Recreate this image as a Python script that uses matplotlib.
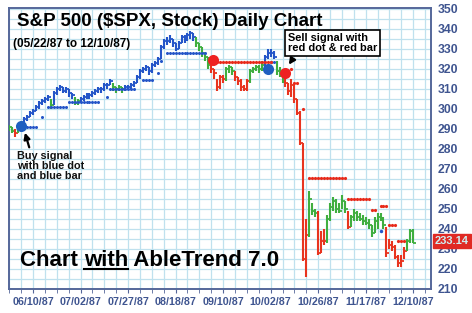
import matplotlib
matplotlib.use("Agg")
import matplotlib.pyplot as plt
from matplotlib.ticker import MultipleLocator, FixedLocator

# day index 12 = 06/10/87, 16 trading days between labels
days = list(range(4, 141))

lows = [289, 288, 286, 288, 290, 292, 294, 296, 297, 299, 300, 302, 303, 304, 300, 302, 307, 309, 308, 308,
        306, 305, 302, 302, 303, 304, 305, 305, 306, 307, 308, 308, 309, 310, 312, 309, 308, 309, 308, 309,
        310, 310, 311, 313, 315, 318, 319, 317, 318, 321, 322, 325, 330, 332, 333, 331, 329, 330, 333, 333,
        334, 335, 334, 331, 329, 326, 324, 320, 318, 315, 309, 310, 313, 314, 318, 317, 314, 312, 309, 309,
        309, 313, 318, 319, 318, 319, 321, 325, 326, 325, 317, 316, 313, 311, 307, 306, 303, 297, 282, 224,
        216, 236, 247, 246, 227, 228, 232, 233, 244, 249, 248, 248, 250, 248, 240, 241, 244, 244, 244, 242,
        242, 240, 236, 238, 240, 244, 240, 226, 230, 229, 225, 221, 221, 225, 229, 233, 233]
highs = [292, 291, 290, 291, 293, 296, 297, 299, 300, 302, 304, 305, 306, 307, 305, 309, 311, 312, 311, 311,
         310, 308, 306, 305, 306, 307, 308, 308, 309, 310, 311, 311, 313, 313, 315, 313, 311, 312, 311, 312,
         312, 313, 314, 317, 320, 321, 322, 321, 323, 324, 326, 332, 335, 336, 337, 335, 333, 334, 337, 337,
         338, 339, 338, 336, 333, 331, 328, 326, 322, 320, 315, 317, 317, 321, 322, 321, 319, 316, 315, 312,
         315, 320, 321, 322, 322, 324, 327, 330, 330, 329, 324, 321, 319, 317, 313, 315, 312, 305, 299, 283,
         245, 259, 253, 250, 249, 239, 240, 247, 253, 256, 255, 253, 257, 254, 249, 247, 250, 249, 248, 247,
         246, 245, 242, 246, 248, 248, 246, 241, 235, 234, 232, 227, 227, 231, 235, 240, 240]
closes = [291, 289, 288, 290, 292, 295, 296, 298, 299, 301, 303, 304, 305, 306, 302, 308, 310, 311, 309, 310,
          308, 307, 303, 304, 305, 306, 306, 307, 308, 309, 310, 310, 312, 312, 314, 311, 310, 311, 310, 311,
          311, 312, 313, 316, 319, 320, 321, 319, 322, 323, 325, 331, 334, 334, 335, 333, 330, 333, 336, 335,
          337, 338, 336, 333, 331, 328, 326, 322, 320, 318, 311, 316, 315, 320, 321, 319, 316, 314, 311, 310,
          314, 319, 320, 321, 320, 322, 326, 328, 328, 326, 319, 318, 316, 313, 309, 312, 305, 298, 283, 225,
          237, 255, 249, 248, 228, 234, 234, 245, 251, 254, 250, 249, 254, 250, 241, 246, 248, 246, 245, 244,
          243, 242, 238, 244, 246, 245, 242, 228, 232, 231, 226, 223, 224, 229, 234, 239, 233.14]

# AbleTrend colour of each bar, as (first day, last day, colour)
trend_runs = [(4, 5, "g"), (6, 6, "r"), (7, 7, "g"), (8, 17, "b"), (18, 18, "g"), (19, 25, "b"),
              (26, 27, "g"), (28, 38, "b"), (39, 42, "g"), (43, 66, "b"), (67, 71, "g"), (72, 76, "r"),
              (77, 79, "g"), (80, 84, "r"), (85, 89, "g"), (90, 93, "b"), (94, 96, "g"), (97, 104, "r"),
              (105, 107, "g"), (108, 110, "r"), (111, 117, "g"), (118, 118, "r"), (119, 130, "g"),
              (131, 137, "r"), (138, 140, "g")]

# AbleTrend stop dots: (first day, last day, level)
blue_stops = [(10, 13, 291), (15, 15, 296), (17, 23, 301), (24, 34, 303.5), (37, 37, 306), (38, 46, 310),
              (49, 52, 314.7), (54, 54, 318), (55, 55, 324), (57, 70, 328), (92, 93, 323.5)]
red_stops = [(73, 92, 323.7), (99, 99, 320), (100, 101, 313), (103, 103, 300), (105, 117, 265.6),
             (118, 125, 255), (126, 127, 249.7), (129, 131, 251.7), (132, 134, 241.8), (135, 137, 234)]
blue_extra = [(129, 238.8)]

# big signal dots
buy_signals = [(8, 291.4), (91, 320)]
sell_signals = [(72.6, 324.5), (97, 318)]

tick_days = [12, 28, 44, 60, 76, 92, 108, 124, 140]
tick_labels = ["06/10/87", "07/02/87", "07/27/87", "08/18/87", "09/10/87",
               "10/02/87", "10/26/87", "11/17/87", "12/10/87"]

colors = {"b": "#2455c8", "g": "#3fae3f", "r": "#e8341f"}
frame = "#55679a"
label_col = "#3f5590"
FONT = "Liberation Sans"

W, H = 472, 313
fig = plt.figure(figsize=(W / 100, H / 100), dpi=100)
ax = fig.add_axes([9 / W, 1 - 289 / H, 422 / W, 281 / H])
ax.set_xlim(3.9, 146)
ax.set_ylim(210.4, 350.5)

bar_color = {}
for a, b, t in trend_runs:
    for d in range(a, b + 1):
        bar_color[d] = colors[t]

# price bars, drawn as a staircase of high-low lines and close ticks
for d, lo, hi, c in zip(days, lows, highs, closes):
    col = bar_color[d]
    ax.plot([d, d], [lo, hi], color=col, lw=1.5, solid_capstyle="butt", zorder=3)
    ax.plot([d, d + 1], [c, c], color=col, lw=1.3, solid_capstyle="butt", zorder=3)

for a, b, lvl in blue_stops:
    xs = list(range(a, b + 1))
    ax.plot(xs, [lvl] * len(xs), ls="none", marker="o", ms=2.2, mew=0, color=colors["b"], zorder=4)
for a, b, lvl in red_stops:
    xs = list(range(a, b + 1))
    ax.plot(xs, [lvl] * len(xs), ls="none", marker="o", ms=2.3, mew=0, color="#e82a1a", zorder=4)
for d, lvl in blue_extra:
    ax.plot(d, lvl, "o", ms=2.5, mew=0, color=colors["b"], zorder=4)

for d, lvl in buy_signals:
    ax.plot(d, lvl, "o", ms=8, mew=0, color="#1f5fc0", zorder=5)
for d, lvl in sell_signals:
    ax.plot(d, lvl, "o", ms=8, mew=0, color="#ee2222", zorder=5)

# grid and axes
ax.xaxis.set_minor_locator(FixedLocator(range(4, 147, 4)))
ax.yaxis.set_minor_locator(MultipleLocator(5))
ax.set_xticks(tick_days)
ax.set_xticklabels(tick_labels)
ax.set_yticks(range(210, 351, 10))
ax.yaxis.tick_right()
ax.grid(True, which="both", color="#bfe1ee", lw=0.9, zorder=0)
ax.set_axisbelow(True)
ax.tick_params(axis="x", which="both", direction="out", length=3, color=frame, pad=3,
               labelsize=7.7, labelcolor=label_col)
ax.tick_params(axis="y", which="both", length=0, pad=5, labelsize=8.8, labelcolor=label_col)
for lab in ax.get_xticklabels() + ax.get_yticklabels():
    lab.set_fontweight("bold")
    lab.set_family(FONT)
for sp in ax.spines.values():
    sp.set_color(frame)
    sp.set_linewidth(1.4)


def fpos(x, y):
    return x / W, 1 - y / H


fig.text(*fpos(17, 21), "S&P 500 (\\$SPX, Stock) Daily Chart", fontsize=13.5, fontweight="bold",
         family=FONT, va="center", ha="left")
fig.text(*fpos(13, 44), "(05/22/87 to 12/10/87)", fontsize=8.5, fontweight="bold",
         family=FONT, va="center", ha="left")
fig.text(*fpos(17, 166), "Buy signal\nwith blue dot\nand blue bar", fontsize=7.8, fontweight="bold",
         family=FONT, va="center", ha="left", linespacing=1.0, color="#111111")
fig.text(*fpos(288, 43), "Sell signal with\nred dot & red bar", fontsize=7.9, fontweight="bold",
         family=FONT, va="center", ha="left", linespacing=1.0,
         bbox=dict(boxstyle="square,pad=0.25", fc="white", ec="black", lw=1.2))

# big caption with "with" underlined
big = dict(fontsize=16, fontweight="bold", family=FONT, va="baseline", ha="left")
x0, ybase = fpos(20, 266)
t1 = fig.text(x0, ybase, "Chart ", **big)
r = fig.canvas.get_renderer()
w1 = t1.get_window_extent(r).width / W
t2 = fig.text(x0 + w1, ybase, "with", **big)
w2 = t2.get_window_extent(r).width / W
fig.text(x0 + w1 + w2, ybase, " AbleTrend 7.0", **big)
fig.add_artist(plt.Line2D([x0 + w1, x0 + w1 + w2], [ybase - 3 / H, ybase - 3 / H], color="black", lw=1.5))

ax.annotate("", xy=(9, 289.5), xytext=fpos(30, 150), textcoords="figure fraction",
            arrowprops=dict(arrowstyle="-|>", color="black", lw=1.6, mutation_scale=9))
ax.annotate("", xy=(97.6, 321), xytext=fpos(294, 57), textcoords="figure fraction",
            arrowprops=dict(arrowstyle="-|>", color="black", lw=1.6, mutation_scale=9))

# last price box
fig.text(*fpos(435, 241), "233.14", fontsize=8, fontweight="bold", family=FONT,
         color="#cfeff2", va="center", ha="left",
         bbox=dict(boxstyle="square,pad=0.2", fc="#e02a24", ec="#e02a24"))

fig.savefig("out.png", dpi=100)
